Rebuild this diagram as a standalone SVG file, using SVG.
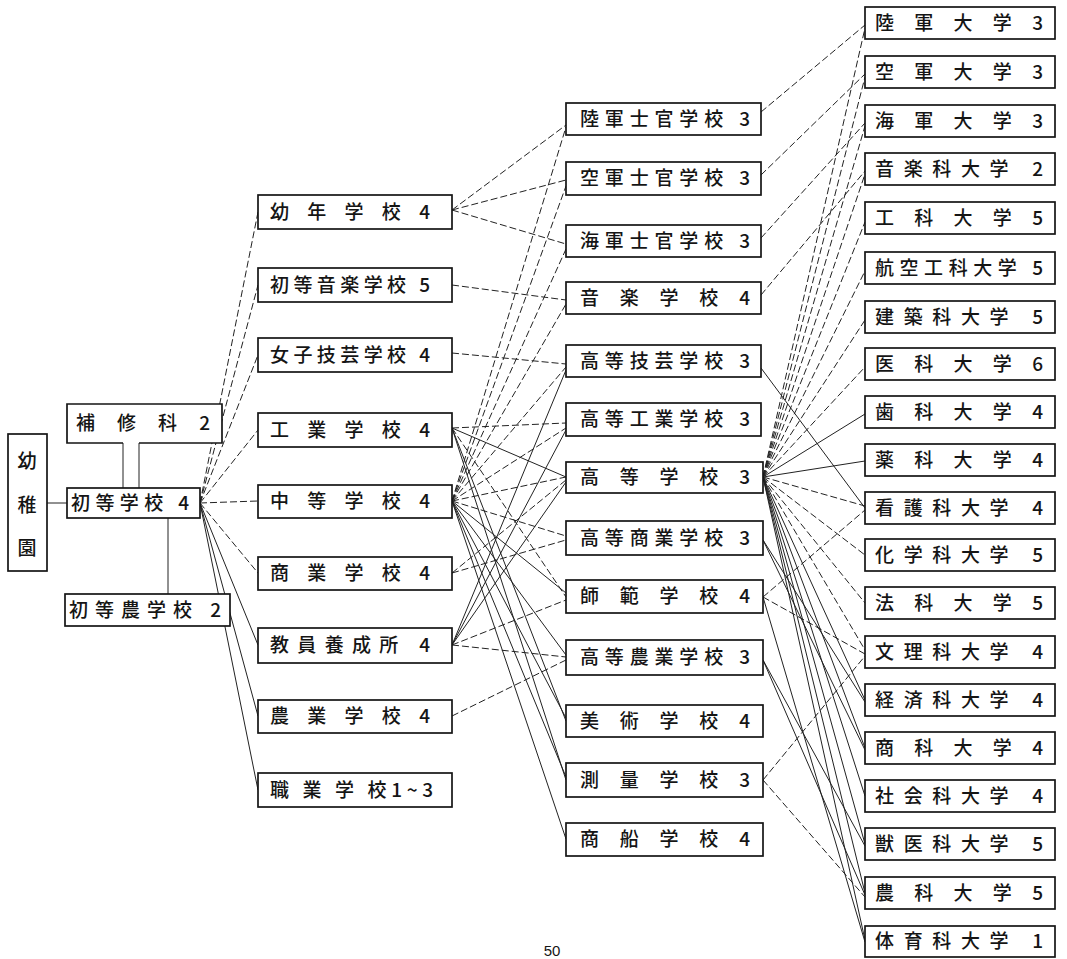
<svg xmlns="http://www.w3.org/2000/svg" width="1067" height="959" viewBox="0 0 1067 959">
<style>
.b{fill:#fff;stroke:#151515;stroke-width:1.7}
.t{font-family:"Noto Sans CJK JP","Noto Sans CJK SC",sans-serif;font-size:19px;font-weight:500;fill:#151515}
.c line{stroke:#222;stroke-width:1;fill:none}
.c .d{stroke-dasharray:7 3}
.c .s{stroke-dasharray:none}
</style>
<rect width="1067" height="959" fill="#fff"/>
<g id="connectors" class="c">
<line class="s" x1="47" y1="503" x2="67" y2="503"/>
<line class="s" x1="123" y1="443" x2="123" y2="488"/>
<line class="s" x1="139" y1="443" x2="139" y2="488"/>
<line class="s" x1="168" y1="518" x2="168" y2="594"/>
<line class="d" x1="200" y1="503" x2="258" y2="212"/>
<line class="d" x1="200" y1="503" x2="258" y2="285"/>
<line class="d" x1="200" y1="503" x2="258" y2="355"/>
<line class="d" x1="200" y1="503" x2="258" y2="430"/>
<line class="d" x1="200" y1="503" x2="258" y2="501"/>
<line class="d" x1="200" y1="503" x2="258" y2="573"/>
<line class="s" x1="200" y1="503" x2="258" y2="645"/>
<line class="s" x1="200" y1="503" x2="258" y2="716"/>
<line class="s" x1="200" y1="503" x2="258" y2="790"/>
<line class="d" x1="452" y1="210" x2="566" y2="125"/>
<line class="d" x1="452" y1="210" x2="566" y2="180"/>
<line class="d" x1="452" y1="210" x2="566" y2="244"/>
<line class="d" x1="452" y1="285" x2="566" y2="300"/>
<line class="d" x1="452" y1="353" x2="566" y2="364"/>
<line class="d" x1="452" y1="428" x2="566" y2="423"/>
<line class="s" x1="452" y1="428" x2="566" y2="477"/>
<line class="d" x1="452" y1="428" x2="566" y2="597"/>
<line class="s" x1="452" y1="428" x2="566" y2="721"/>
<line class="s" x1="452" y1="428" x2="566" y2="780"/>
<line class="d" x1="452" y1="501" x2="566" y2="127"/>
<line class="d" x1="452" y1="501" x2="566" y2="186"/>
<line class="d" x1="452" y1="501" x2="566" y2="249"/>
<line class="d" x1="452" y1="501" x2="566" y2="304"/>
<line class="d" x1="452" y1="501" x2="566" y2="367"/>
<line class="d" x1="452" y1="501" x2="566" y2="428"/>
<line class="d" x1="452" y1="501" x2="566" y2="477"/>
<line class="d" x1="452" y1="501" x2="566" y2="536"/>
<line class="s" x1="452" y1="501" x2="566" y2="593"/>
<line class="s" x1="452" y1="501" x2="566" y2="655"/>
<line class="s" x1="452" y1="501" x2="566" y2="718"/>
<line class="s" x1="452" y1="501" x2="566" y2="777"/>
<line class="s" x1="452" y1="501" x2="566" y2="839"/>
<line class="d" x1="452" y1="573" x2="566" y2="540"/>
<line class="d" x1="452" y1="573" x2="566" y2="480"/>
<line class="s" x1="452" y1="645" x2="566" y2="370"/>
<line class="s" x1="452" y1="645" x2="566" y2="430"/>
<line class="s" x1="452" y1="645" x2="566" y2="482"/>
<line class="d" x1="452" y1="645" x2="566" y2="600"/>
<line class="d" x1="452" y1="645" x2="566" y2="657"/>
<line class="d" x1="452" y1="716" x2="566" y2="660"/>
<line class="d" x1="761" y1="112" x2="865" y2="25"/>
<line class="d" x1="761" y1="175" x2="865" y2="74"/>
<line class="d" x1="761" y1="238" x2="865" y2="123"/>
<line class="d" x1="761" y1="295" x2="865" y2="171"/>
<line class="s" x1="761" y1="368" x2="865" y2="508"/>
<line class="d" x1="763" y1="477" x2="865" y2="28"/>
<line class="d" x1="763" y1="477" x2="865" y2="77"/>
<line class="d" x1="763" y1="477" x2="865" y2="126"/>
<line class="d" x1="763" y1="477" x2="865" y2="174"/>
<line class="d" x1="763" y1="477" x2="865" y2="222"/>
<line class="d" x1="763" y1="477" x2="865" y2="271"/>
<line class="d" x1="763" y1="477" x2="865" y2="320"/>
<line class="d" x1="763" y1="477" x2="865" y2="367"/>
<line class="s" x1="763" y1="477" x2="865" y2="414"/>
<line class="s" x1="763" y1="477" x2="865" y2="461"/>
<line class="d" x1="763" y1="477" x2="865" y2="506"/>
<line class="d" x1="763" y1="477" x2="865" y2="555"/>
<line class="d" x1="763" y1="477" x2="865" y2="603"/>
<line class="d" x1="763" y1="477" x2="865" y2="650"/>
<line class="s" x1="763" y1="477" x2="865" y2="700"/>
<line class="s" x1="763" y1="477" x2="865" y2="748"/>
<line class="s" x1="763" y1="477" x2="865" y2="796"/>
<line class="s" x1="763" y1="477" x2="865" y2="844"/>
<line class="s" x1="763" y1="477" x2="865" y2="893"/>
<line class="s" x1="763" y1="477" x2="865" y2="940"/>
<line class="s" x1="763" y1="540" x2="865" y2="702"/>
<line class="s" x1="763" y1="540" x2="865" y2="750"/>
<line class="d" x1="763" y1="597" x2="865" y2="510"/>
<line class="d" x1="763" y1="597" x2="865" y2="654"/>
<line class="s" x1="763" y1="597" x2="865" y2="942"/>
<line class="s" x1="763" y1="660" x2="865" y2="846"/>
<line class="s" x1="763" y1="660" x2="865" y2="895"/>
<line class="d" x1="763" y1="780" x2="865" y2="656"/>
<line class="d" x1="763" y1="780" x2="865" y2="897"/>
</g>
<g id="n-yochien"><rect class="b" x="8" y="434" width="39" height="137"/><text class="t" x="27" y="468" text-anchor="middle">幼</text><text class="t" x="27" y="512" text-anchor="middle">稚</text><text class="t" x="27" y="555" text-anchor="middle">園</text></g>
<g id="n-hoshuka"><path class="b" d="M123 443H67V404H222V443H139"/><text class="t" x="76" y="430" textLength="134" lengthAdjust="spacing">補 修 科 2</text></g>
<g id="n-shoto"><rect class="b" x="67" y="488" width="133" height="30"/><text class="t" x="71" y="510" textLength="118" lengthAdjust="spacing">初等学校 4</text></g>
<g id="n-shotono"><rect class="b" x="65" y="594" width="165" height="32"/><text class="t" x="69" y="617" textLength="152" lengthAdjust="spacing">初等農学校 2</text></g>
<g id="n-yonen"><rect class="b" x="258" y="195" width="194" height="34"/><text class="t" x="270" y="219" textLength="160" lengthAdjust="spacing">幼 年 学 校 4</text></g>
<g id="n-shotoongaku"><rect class="b" x="258" y="268" width="194" height="34"/><text class="t" x="270" y="292" textLength="160" lengthAdjust="spacing">初等音楽学校 5</text></g>
<g id="n-joshigigei"><rect class="b" x="258" y="338" width="194" height="34"/><text class="t" x="270" y="362" textLength="160" lengthAdjust="spacing">女子技芸学校 4</text></g>
<g id="n-kogyo"><rect class="b" x="258" y="413" width="194" height="34"/><text class="t" x="270" y="437" textLength="160" lengthAdjust="spacing">工 業 学 校 4</text></g>
<g id="n-chuto"><rect class="b" x="258" y="485" width="194" height="33"/><text class="t" x="270" y="508" textLength="160" lengthAdjust="spacing">中 等 学 校 4</text></g>
<g id="n-shogyo"><rect class="b" x="258" y="557" width="194" height="33"/><text class="t" x="270" y="580" textLength="160" lengthAdjust="spacing">商 業 学 校 4</text></g>
<g id="n-kyoin"><rect class="b" x="258" y="628" width="194" height="35"/><text class="t" x="270" y="652" textLength="160" lengthAdjust="spacing">教員養成所 4</text></g>
<g id="n-nogyo"><rect class="b" x="258" y="700" width="194" height="33"/><text class="t" x="270" y="723" textLength="160" lengthAdjust="spacing">農 業 学 校 4</text></g>
<g id="n-shokugyo"><rect class="b" x="258" y="773" width="194" height="34"/><text class="t" x="270" y="797" textLength="163" lengthAdjust="spacing">職 業 学 校1~3</text></g>
<g id="n-rikugunshikan"><rect class="b" x="566" y="103" width="195" height="32"/><text class="t" x="580" y="126" textLength="170" lengthAdjust="spacing">陸軍士官学校 3</text></g>
<g id="n-kugunshikan"><rect class="b" x="566" y="162" width="195" height="33"/><text class="t" x="580" y="185" textLength="170" lengthAdjust="spacing">空軍士官学校 3</text></g>
<g id="n-kaigunshikan"><rect class="b" x="566" y="225" width="195" height="32"/><text class="t" x="580" y="248" textLength="170" lengthAdjust="spacing">海軍士官学校 3</text></g>
<g id="n-ongaku"><rect class="b" x="566" y="282" width="195" height="32"/><text class="t" x="580" y="305" textLength="170" lengthAdjust="spacing">音 楽 学 校 4</text></g>
<g id="n-kotogigei"><rect class="b" x="566" y="345" width="195" height="32"/><text class="t" x="580" y="368" textLength="170" lengthAdjust="spacing">高等技芸学校 3</text></g>
<g id="n-kotokogyo"><rect class="b" x="566" y="403" width="195" height="33"/><text class="t" x="580" y="426" textLength="170" lengthAdjust="spacing">高等工業学校 3</text></g>
<g id="n-koto"><rect class="b" x="566" y="462" width="197" height="31"/><text class="t" x="580" y="484" textLength="170" lengthAdjust="spacing">高 等 学 校 3</text></g>
<g id="n-kotoshogyo"><rect class="b" x="566" y="521" width="197" height="34"/><text class="t" x="580" y="545" textLength="170" lengthAdjust="spacing">高等商業学校 3</text></g>
<g id="n-shihan"><rect class="b" x="566" y="580" width="197" height="33"/><text class="t" x="580" y="603" textLength="170" lengthAdjust="spacing">師 範 学 校 4</text></g>
<g id="n-kotonogyo"><rect class="b" x="566" y="640" width="197" height="35"/><text class="t" x="580" y="664" textLength="170" lengthAdjust="spacing">高等農業学校 3</text></g>
<g id="n-bijutsu"><rect class="b" x="566" y="705" width="197" height="32"/><text class="t" x="580" y="728" textLength="170" lengthAdjust="spacing">美 術 学 校 4</text></g>
<g id="n-sokuryo"><rect class="b" x="566" y="763" width="197" height="34"/><text class="t" x="580" y="787" textLength="170" lengthAdjust="spacing">測 量 学 校 3</text></g>
<g id="n-shosen"><rect class="b" x="566" y="823" width="197" height="33"/><text class="t" x="580" y="846" textLength="170" lengthAdjust="spacing">商 船 学 校 4</text></g>
<g id="n-u1"><rect class="b" x="865" y="7" width="190" height="32"/><text class="t" x="875" y="30" textLength="168" lengthAdjust="spacing">陸 軍 大 学 3</text></g>
<g id="n-u2"><rect class="b" x="865" y="56" width="190" height="32"/><text class="t" x="875" y="79" textLength="168" lengthAdjust="spacing">空 軍 大 学 3</text></g>
<g id="n-u3"><rect class="b" x="865" y="105" width="190" height="32"/><text class="t" x="875" y="128" textLength="168" lengthAdjust="spacing">海 軍 大 学 3</text></g>
<g id="n-u4"><rect class="b" x="865" y="153" width="190" height="32"/><text class="t" x="875" y="176" textLength="168" lengthAdjust="spacing">音楽科大学 2</text></g>
<g id="n-u5"><rect class="b" x="865" y="202" width="190" height="32"/><text class="t" x="875" y="225" textLength="168" lengthAdjust="spacing">工 科 大 学 5</text></g>
<g id="n-u6"><rect class="b" x="865" y="252" width="190" height="32"/><text class="t" x="875" y="275" textLength="168" lengthAdjust="spacing">航空工科大学 5</text></g>
<g id="n-u7"><rect class="b" x="865" y="301" width="190" height="32"/><text class="t" x="875" y="324" textLength="168" lengthAdjust="spacing">建築科大学 5</text></g>
<g id="n-u8"><rect class="b" x="865" y="348" width="190" height="32"/><text class="t" x="875" y="371" textLength="168" lengthAdjust="spacing">医 科 大 学 6</text></g>
<g id="n-u9"><rect class="b" x="865" y="396" width="190" height="32"/><text class="t" x="875" y="419" textLength="168" lengthAdjust="spacing">歯 科 大 学 4</text></g>
<g id="n-u10"><rect class="b" x="865" y="444" width="190" height="32"/><text class="t" x="875" y="467" textLength="168" lengthAdjust="spacing">薬 科 大 学 4</text></g>
<g id="n-u11"><rect class="b" x="865" y="492" width="190" height="32"/><text class="t" x="875" y="515" textLength="168" lengthAdjust="spacing">看護科大学 4</text></g>
<g id="n-u12"><rect class="b" x="865" y="539" width="190" height="32"/><text class="t" x="875" y="562" textLength="168" lengthAdjust="spacing">化学科大学 5</text></g>
<g id="n-u13"><rect class="b" x="865" y="587" width="190" height="32"/><text class="t" x="875" y="610" textLength="168" lengthAdjust="spacing">法 科 大 学 5</text></g>
<g id="n-u14"><rect class="b" x="865" y="636" width="190" height="32"/><text class="t" x="875" y="659" textLength="168" lengthAdjust="spacing">文理科大学 4</text></g>
<g id="n-u15"><rect class="b" x="865" y="684" width="190" height="32"/><text class="t" x="875" y="707" textLength="168" lengthAdjust="spacing">経済科大学 4</text></g>
<g id="n-u16"><rect class="b" x="865" y="732" width="190" height="32"/><text class="t" x="875" y="755" textLength="168" lengthAdjust="spacing">商 科 大 学 4</text></g>
<g id="n-u17"><rect class="b" x="865" y="780" width="190" height="32"/><text class="t" x="875" y="803" textLength="168" lengthAdjust="spacing">社会科大学 4</text></g>
<g id="n-u18"><rect class="b" x="865" y="828" width="190" height="32"/><text class="t" x="875" y="851" textLength="168" lengthAdjust="spacing">獣医科大学 5</text></g>
<g id="n-u19"><rect class="b" x="865" y="877" width="190" height="32"/><text class="t" x="875" y="900" textLength="168" lengthAdjust="spacing">農 科 大 学 5</text></g>
<g id="n-u20"><rect class="b" x="865" y="926" width="190" height="31"/><text class="t" x="875" y="948" textLength="168" lengthAdjust="spacing">体育科大学 1</text></g>
<text x="552" y="956" text-anchor="middle" style="font-family:'Liberation Sans',sans-serif;font-size:15px;fill:#151515">50</text>
</svg>
